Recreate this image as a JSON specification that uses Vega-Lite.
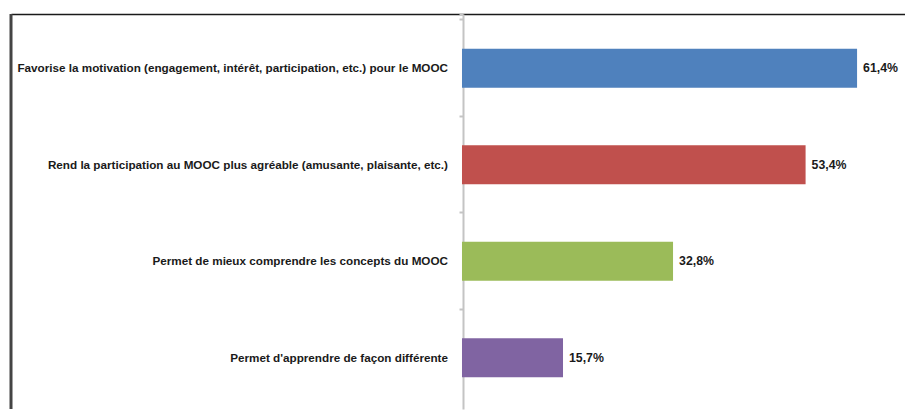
{
  "$schema": "https://vega.github.io/schema/vega-lite/v6.json",
  "width": 905,
  "height": 411,
  "autosize": {"type": "fit", "contains": "padding"},
  "padding": {"left": 9, "top": 12, "right": 0, "bottom": 0},
  "background": "white",
  "config": {"view": {"stroke": null}, "font": "Liberation Sans"},
  "data": {
    "values": [
      {"cat": "Favorise la motivation (engagement, intérêt, participation, etc.) pour le MOOC", "pct": 61.4, "label": "61,4%"},
      {"cat": "Rend la participation au MOOC plus agréable (amusante, plaisante, etc.)", "pct": 53.4, "label": "53,4%"},
      {"cat": "Permet de mieux comprendre les concepts du MOOC", "pct": 32.8, "label": "32,8%"},
      {"cat": "Permet d'apprendre de façon différente", "pct": 15.7, "label": "15,7%"}
    ]
  },
  "layer": [
    {
      "mark": {"type": "bar", "size": 39},
      "encoding": {
        "y": {
          "field": "cat", "type": "nominal", "sort": null,
          "scale": {"paddingInner": 0, "paddingOuter": 0.046, "align": 0.667},
          "axis": {"orient": "left", "offset": -452, "labels": false, "title": null, "ticks": true, "tickSize": 4, "tickColor": "#c4c4c4", "tickWidth": 2, "bandPosition": 0, "tickExtra": true, "domainColor": "#c4c4c4", "domainWidth": 2, "grid": false}
        },
        "x": {
          "field": "pct", "type": "quantitative",
          "scale": {"domain": [-70.09, 68.85], "nice": false, "zero": false},
          "axis": {"orient": "top", "labels": false, "ticks": false, "title": null, "grid": false, "domainColor": "#1a1a1a", "domainWidth": 1.5}
        },
        "x2": {"datum": 0},
        "color": {
          "field": "cat", "type": "nominal",
          "scale": {
            "domain": ["Favorise la motivation (engagement, intérêt, participation, etc.) pour le MOOC", "Rend la participation au MOOC plus agréable (amusante, plaisante, etc.)", "Permet de mieux comprendre les concepts du MOOC", "Permet d'apprendre de façon différente"],
            "range": ["#4f81bd", "#c0504d", "#9bbb59", "#8064a2"]
          },
          "legend": null
        }
      }
    },
    {
      "mark": {"type": "text", "align": "right", "baseline": "middle", "dx": -14, "fontWeight": "bold", "fontSize": 11.7, "color": "#1a1a1a"},
      "encoding": {
        "y": {"field": "cat", "type": "nominal", "sort": null},
        "x": {"datum": 0},
        "text": {"field": "cat"}
      }
    },
    {
      "mark": {"type": "text", "align": "left", "baseline": "middle", "dx": 6, "fontWeight": "bold", "fontSize": 12.3, "color": "#1a1a1a"},
      "encoding": {
        "y": {"field": "cat", "type": "nominal", "sort": null},
        "x": {"field": "pct", "type": "quantitative"},
        "text": {"field": "label"}
      }
    },
    {
      "data": {"values": [{}]},
      "mark": {"type": "rule", "color": "#444444", "strokeWidth": 3},
      "encoding": {"x": {"datum": -70.09}}
    }
  ]
}
